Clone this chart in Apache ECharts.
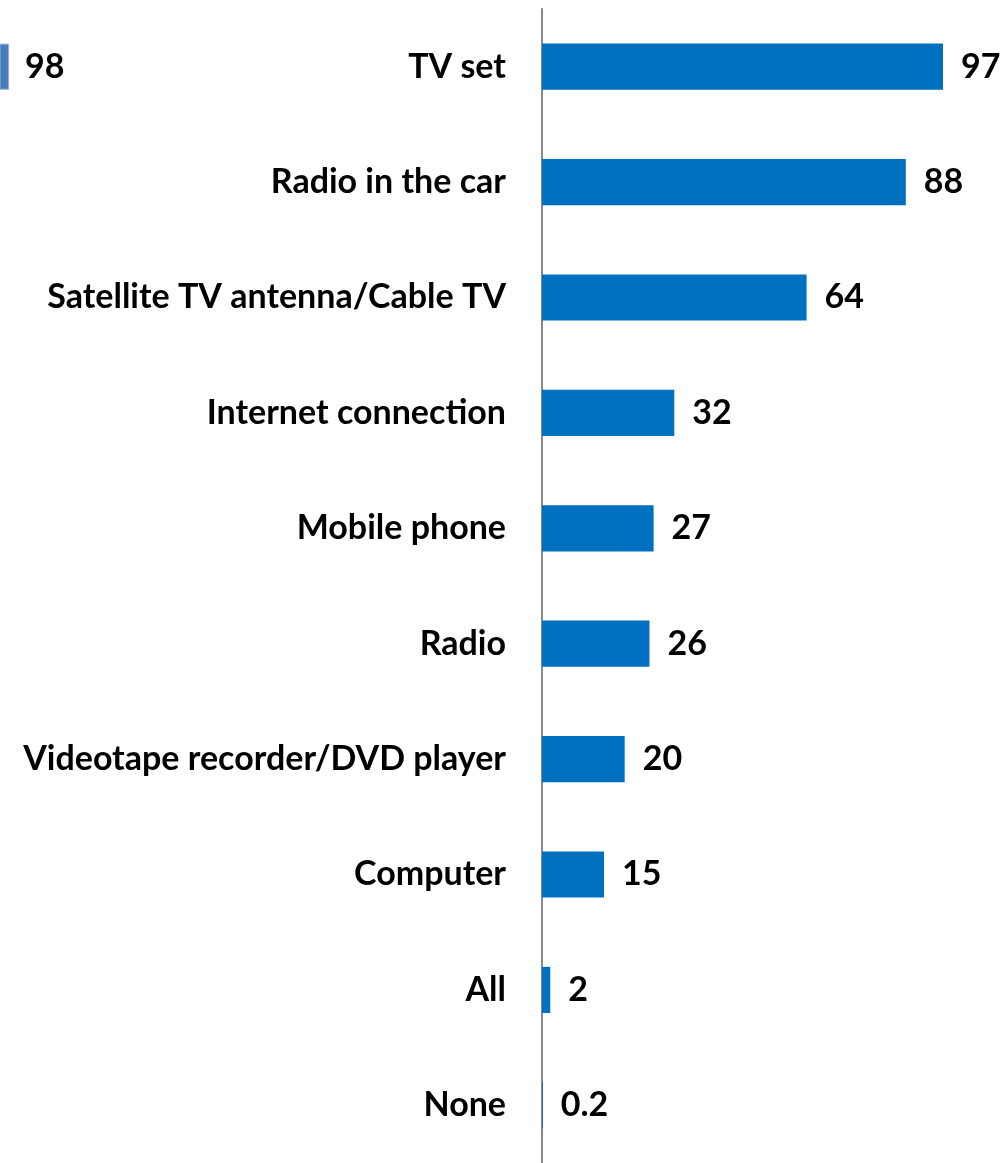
<!DOCTYPE html>
<html>
<head>
<meta charset="utf-8">
<script src="https://cdn.jsdelivr.net/npm/echarts@6/dist/echarts.min.js"></script>
<style>
  html, body { margin: 0; padding: 0; background: #fff; }
  #chart { width: 1000px; height: 1163px; }
</style>
</head>
<body>
<div id="chart"></div>
<script>
// Household media equipment, percent
const categories = [
  'TV set',
  'Radio in the car',
  'Satellite TV antenna/Cable TV',
  'Internet connection',
  'Mobile phone',
  'Radio',
  'Videotape recorder/DVD player',
  'Computer',
  'All',
  'None'
];
const values = [97, 88, 64, 32, 27, 26, 20, 15, 2, 0.2];

// Neighbouring panel: only its first bar's tip shows at the left edge
const sideValues = [98, '-', '-', '-', '-', '-', '-', '-', '-', '-'];

const FONT = 'Lato';
const labelStyle = {
  fontFamily: FONT,
  fontWeight: 'bold',
  fontSize: 34,
  color: '#000'
};

const chart = echarts.init(document.getElementById('chart'), null, { renderer: 'canvas' });

chart.setOption({
  animation: false,
  grid: [
    { left: 542, width: 413.4, top: 9, bottom: -4, containLabel: false },
    { left: 0, width: 9, top: 9, bottom: -4, containLabel: false }
  ],
  xAxis: [
    { gridIndex: 0, type: 'value', min: 0, max: 100, show: false },
    { gridIndex: 1, type: 'value', min: 96, max: 98, show: false }
  ],
  yAxis: [
    {
      gridIndex: 0,
      type: 'category',
      data: categories,
      inverse: true,
      axisLine: { show: true, lineStyle: { color: '#898989', width: 2 } },
      axisTick: { show: false },
      splitLine: { show: false },
      axisLabel: Object.assign({ margin: 36 }, labelStyle)
    },
    {
      gridIndex: 1,
      type: 'category',
      data: categories,
      inverse: true,
      show: false
    }
  ],
  series: [
    {
      type: 'bar',
      xAxisIndex: 0,
      yAxisIndex: 0,
      data: values,
      barCategoryGap: '60%',
      itemStyle: { color: '#0070C0' },
      label: Object.assign({
        show: true,
        position: 'right',
        distance: 18,
        formatter: p => String(p.value)
      }, labelStyle)
    },
    {
      type: 'bar',
      xAxisIndex: 1,
      yAxisIndex: 1,
      data: sideValues,
      barCategoryGap: '60%',
      clip: true,
      itemStyle: { color: '#4A7EBB', borderColor: '#8DB3E2', borderWidth: 1 },
      label: Object.assign({
        show: true,
        position: 'right',
        distance: 16,
        formatter: p => String(p.value)
      }, labelStyle)
    }
  ]
});
</script>
</body>
</html>
